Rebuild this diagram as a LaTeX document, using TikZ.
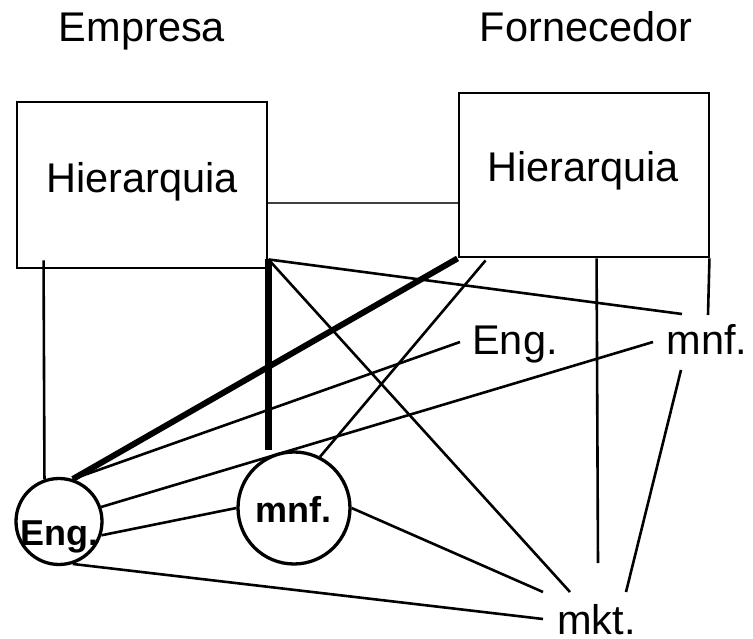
\documentclass[tikz,border=0pt]{standalone}
\usepackage{fontspec}
\setmainfont{Liberation Sans}
\begin{document}
\begin{tikzpicture}[x=1pt,y=-1pt,
  lbl/.style={font=\fontsize{41.5}{48}\selectfont, inner sep=0pt, anchor=base},
  blbl/.style={font=\fontsize{36}{40}\selectfont\bfseries, inner sep=0pt, anchor=base},
  boxn/.style={draw, line width=2.9pt, minimum width=250pt, inner sep=0pt},
  circn/.style={circle, draw, line width=3.3pt, inner sep=0pt},
  conn/.style={line width=2.6pt},
  heavy/.style={line width=7pt},
  heavyd/.style={line width=6pt},
  faint/.style={line width=1.5pt, black!75}]

\useasboundingbox (0,0) rectangle (753,639);

% titles
\node[lbl] (emp)  at (142,42) {Empresa};
\node[lbl] (forn) at (586,42) {Fornecedor};

% hierarchy boxes
\node[boxn, minimum height=166pt] (lbox) at (142,185) {};
\node[boxn, minimum height=164pt] (rbox) at (584,175) {};
\node[lbl] (lh) at (142,193) {Hierarquia};
\node[lbl] (rh) at (583,182) {Hierarquia};

% circles
\node[circn, minimum size=86pt]  (engc) at (59,521.5) {};
\node[circn, minimum size=112pt] (mnfc) at (294,508) {};
\node[blbl] (engt) at (59,545) {Eng.};
\node[blbl] (mnft) at (293.5,522) {mnf.};

% supplier-side labels
\node[lbl] (englab) at (515,355) {Eng.};
\node[lbl] (mnflab) at (707,355) {mnf.};
\node[lbl] (mktlab) at (596.5,634) {mkt.};

% connector ends near the labels
\coordinate (e1) at (460,342);
\coordinate (m1) at (682,314);
\coordinate (m2) at (653,342);
\coordinate (m3) at (708,315);
\coordinate (m4) at (681,370);
\coordinate (k1) at (543,619);
\coordinate (k2) at (543,592);
\coordinate (k3) at (570,592);
\coordinate (k4) at (598,563);
\coordinate (k5) at (626,592);

% helper points on the boxes
\coordinate (lc) at ([yshift=10pt]lbox.south east);
\coordinate (lv) at ([xshift=28pt,yshift=9pt]lbox.south west);
\coordinate (h1) at ([yshift=-18pt]lbox.east);
\coordinate (rb1) at ([xshift=28pt,yshift=-2pt]rbox.south west);
\coordinate (rb2) at ([xshift=139pt]rbox.south west);

% box to box
\draw[faint] (h1) -- (h1 -| rbox.west);

% company hierarchy
\draw[conn] (lv) -- (engc.109);
\draw[heavy] (lc) -- (lc |- mnfc.north);
\draw[conn] (lc) -- (m1);
\draw[conn] (lc) -- (k3);

% supplier hierarchy
\draw[heavyd] (rbox.south west) -- (engc.72.6);
\draw[conn] (rb1) -- (mnfc.63.9);
\draw[conn] (rb2) -- (k4);
\draw[conn] ([xshift=-1pt]rbox.south east) -- (m3);

% engineering circle
\draw[conn] (engc.72.6) -- (e1);
\draw[conn] (engc.19.5) -- (m2);
\draw[conn] (engc.-18) -- (mnfc.180);
\draw[conn] (engc.-72.6) -- (k1);

% manufacturing circle
\draw[conn] (mnfc.0) -- (k2);

% supplier mnf to mkt
\draw[conn] (m4) -- (k5);
\end{tikzpicture}
\end{document}
